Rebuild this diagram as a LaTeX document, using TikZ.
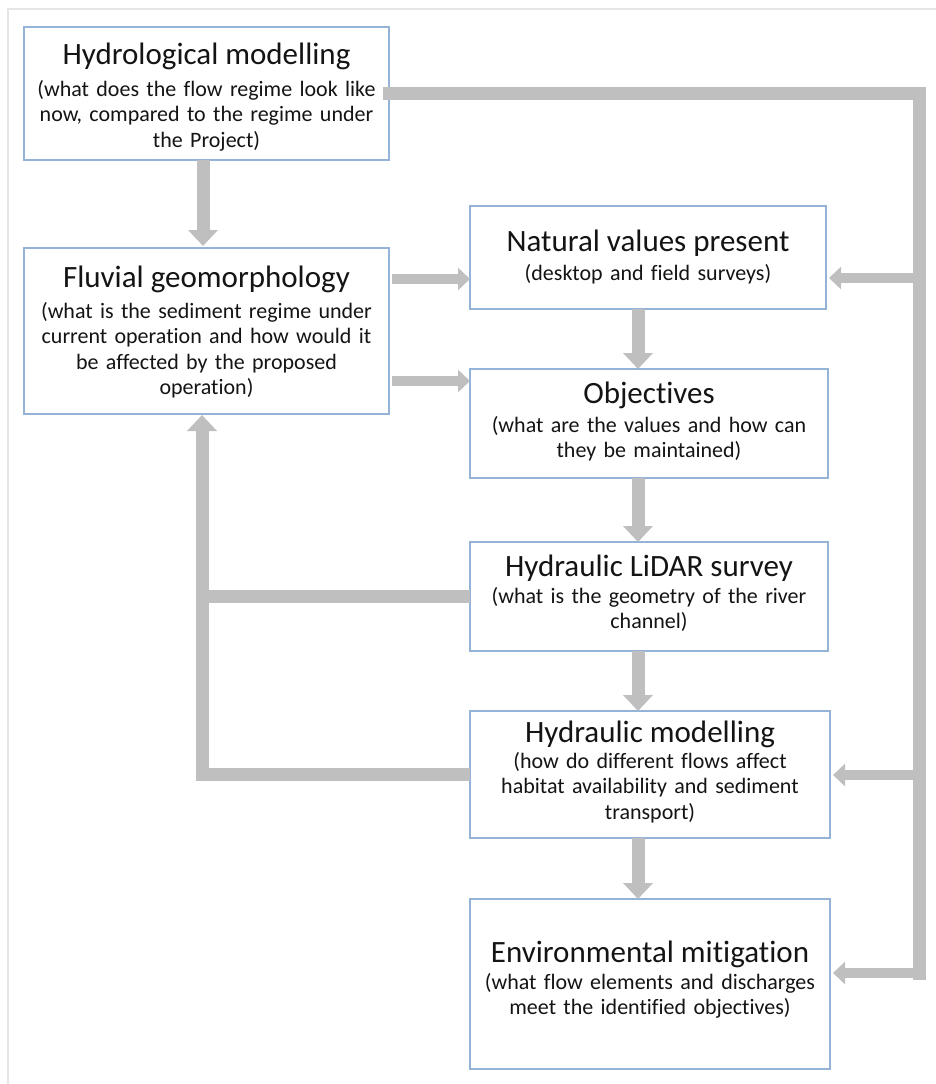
\documentclass[tikz,border=0pt]{standalone}
\usepackage{fontspec}
\setmainfont{Carlito}[Ligatures=NoCommon]
\usetikzlibrary{arrows.meta}
\definecolor{boxblue}{HTML}{95B3D7}
\definecolor{flowgrey}{HTML}{BFBFBF}
\definecolor{framegrey}{HTML}{E6E6E6}
\tikzset{
  box/.style={draw=boxblue, line width=2pt, fill=white, inner sep=0pt, outer sep=0pt, anchor=north west},
  ttl/.style={font=\fontsize{31}{36}\selectfont, inner sep=0pt, anchor=base, text=black!92},
  sub/.style={font=\fontsize{22}{25.5}\selectfont, inner sep=0pt, anchor=base, text width=420pt, align=center, text=black!92},
  flow/.style={draw=flowgrey, line width=13pt, -{Triangle[width=29pt,length=16pt]}},
  side/.style={draw=flowgrey, line width=10pt, -{Triangle[width=22pt,length=12pt]}},
  bar/.style={draw=flowgrey, line width=13pt},
}
\begin{document}
\begin{tikzpicture}[x=1pt,y=-1pt]
\useasboundingbox (0,0) rectangle (936,1084);
% outer frame
\draw[framegrey, line width=2.5pt] (8,1084) -- (8,9) -- (936,9);

% boxes
\node[box, minimum width=365pt, minimum height=133pt] (hydro) at (24,27) {};
\node[box, minimum width=365pt, minimum height=166pt] (fluv) at (24,248) {};
\node[box, minimum width=356pt, minimum height=103pt] (nat) at (470,206) {};
\node[box, minimum width=358pt, minimum height=109pt] (obj) at (470,369) {};
\node[box, minimum width=358pt, minimum height=109pt] (lidar) at (470,542) {};
\node[box, minimum width=360pt, minimum height=127pt] (hm) at (470,711) {};
\node[box, minimum width=360pt, minimum height=170pt] (env) at (470,899) {};

% texts
\node[ttl] (hydroT) at (206.5,64) {Hydrological modelling};
\node[sub] (hydroS) at (206.5,96) {(what does the flow regime look like\\now, compared to the regime under\\the Project)};
\node[ttl] (fluvT) at (206.5,287) {Fluvial geomorphology};
\node[sub] (fluvS) at (206.5,318) {(what is the sediment regime under\\current operation and how would it\\be affected by the proposed\\operation)};
\node[ttl] (natT) at (648,251) {Natural values present};
\node[sub] (natS) at (648,280) {(desktop and field surveys)};
\node[ttl] (objT) at (649,403) {Objectives};
\node[sub] (objS) at (649,432) {(what are the values and how can\\they be maintained)};
\node[ttl] (lidarT) at (649,576) {Hydraulic LiDAR survey};
\node[sub] (lidarS) at (649,603) {(what is the geometry of the river\\channel)};
\node[ttl] (hmT) at (650,742) {Hydraulic modelling};
\node[sub] (hmS) at (650,768) {(how do different flows affect\\habitat availability and sediment\\transport)};
\node[ttl] (envT) at (650,962) {Environmental mitigation};
\node[sub] (envS) at (650,989) {(what flow elements and discharges\\meet the identified objectives)};

% helper coordinates
\coordinate (rtop) at (919,93.5);
\coordinate (rbot) at (919,973);
\coordinate (r1) at (919,278);
\coordinate (r2) at (919,775);
\coordinate (yA) at (0,279);
\coordinate (yB) at (0,381);
\coordinate (xL) at (202,0);
\coordinate (xM) at (638,0);
\coordinate (xH) at (203,0);

% right-hand feed from hydrological modelling
\draw[bar, line cap=rect] (hydro.east) -- (rtop) -- (rbot);
\draw[side, shorten >=3pt] (r1) -- (r1 -| nat.east);
\draw[side, shorten >=3pt] (r2) -- (r2 -| hm.east);
\draw[side, shorten >=3pt] (rbot) -- (rbot -| env.east);

% hydro -> fluvial
\draw[flow, shorten >=2pt] (hydro.south -| xH) -- (fluv.north -| xH);

% fluvial -> natural / objectives
\draw[side, shorten <=3pt] (fluv.east |- yA) -- (nat.west |- yA);
\draw[side, shorten <=3pt] (fluv.east |- yB) -- (obj.west |- yB);

% main chain
\draw[flow] (nat.south -| xM) -- (obj.north -| xM);
\draw[flow] (obj.south -| xM) -- (lidar.north -| xM);
\draw[flow] (lidar.south -| xM) -- (hm.north -| xM);
\draw[flow] (hm.south -| xM) -- (env.north -| xM);

% feedback to fluvial geomorphology
\draw[flow, shorten >=1pt] (hm.west) -- (hm.west -| xL) -- (fluv.south -| xL);
\draw[bar] (lidar.west) -- (lidar.west -| xL);
\end{tikzpicture}
\end{document}
